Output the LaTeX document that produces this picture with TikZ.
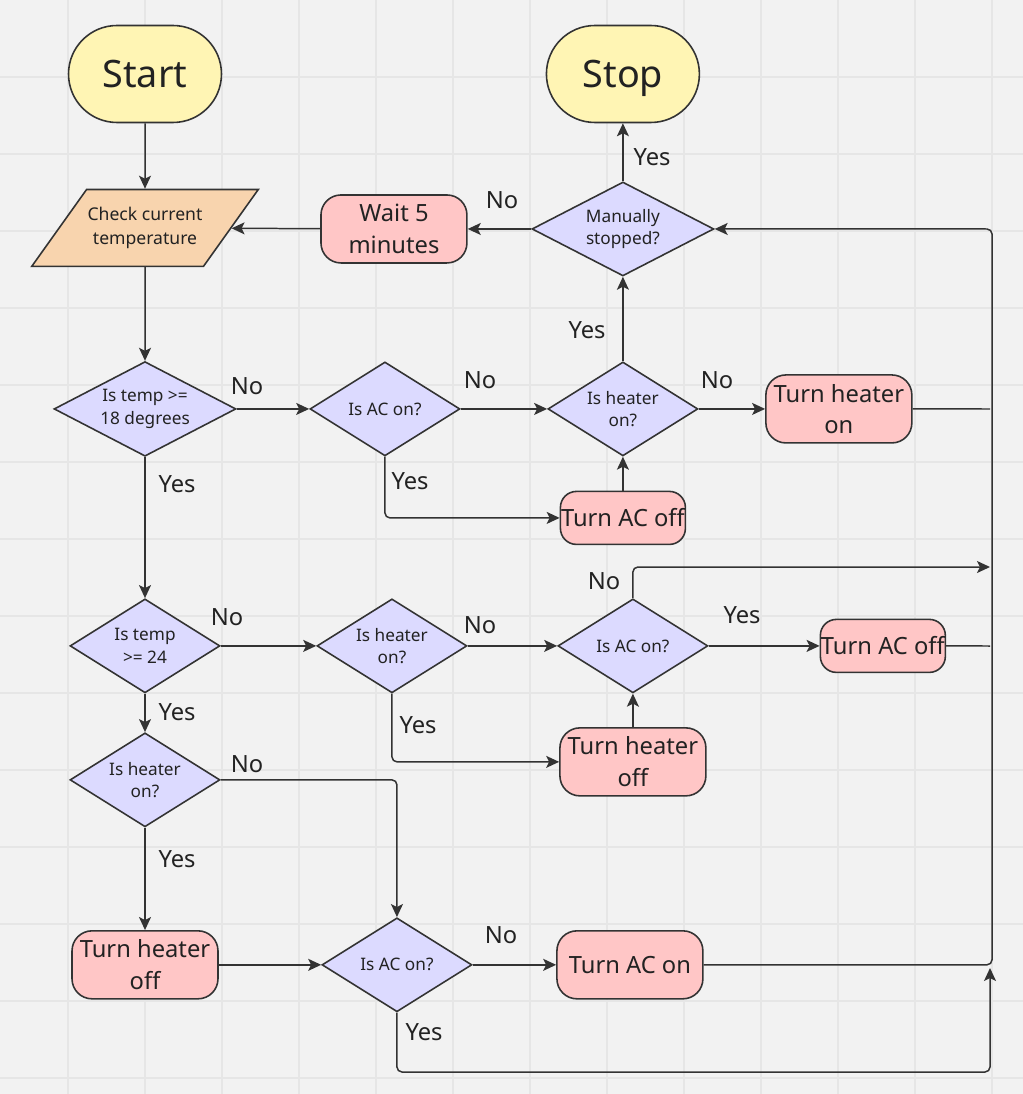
\documentclass[tikz,border=0pt]{standalone}
\usepackage{fontspec}
\setmainfont{Noto Sans}
\usetikzlibrary{shapes,arrows,arrows.meta}
\definecolor{bgcol}{HTML}{F2F2F2}
\definecolor{gridcol}{HTML}{E6E6E6}
\definecolor{linecol}{HTML}{333333}
\definecolor{txtcol}{HTML}{222222}
\definecolor{termfill}{HTML}{FFF5B4}
\definecolor{iofill}{HTML}{F8D4AE}
\definecolor{actfill}{HTML}{FFC6C6}
\definecolor{decfill}{HTML}{DCDAFF}
\tikzstyle{terminal} = [rectangle, draw=linecol, line width=0.9pt, fill=termfill, text=txtcol, rounded corners=0.97cm, minimum width=3.06cm, minimum height=1.94cm, text depth=0pt, font=\fontsize{21.5}{26}\selectfont]
\tikzstyle{io} = [trapezium, draw=linecol, line width=0.9pt, fill=iofill, text=txtcol, trapezium left angle=54.5, trapezium right angle=125.5, inner xsep=0.02cm, inner ysep=0.355cm, align=center, font=\fontsize{10}{13.6}\selectfont]
\tikzstyle{decision} = [diamond, draw=linecol, line width=0.9pt, fill=decfill, text=txtcol, aspect=1.6, inner sep=0pt, minimum width=3cm, minimum height=1.88cm, align=center, font=\fontsize{9.8}{12.7}\selectfont]
\tikzstyle{widedecision} = [decision, minimum width=3.64cm]
\tikzstyle{block} = [rectangle, draw=linecol, line width=0.9pt, fill=actfill, text=txtcol, rounded corners=0.4cm, minimum width=2.92cm, minimum height=1.36cm, align=center, font=\fontsize{13.5}{18}\selectfont]
\tikzstyle{smallblock} = [block, inner sep=0pt, rounded corners=0.32cm, minimum width=2.5cm, minimum height=1.06cm]
\tikzstyle{line} = [draw=linecol, line width=0.85pt, rounded corners=0.1cm, -{Stealth[length=0.26cm, width=0.24cm, inset=0.06cm]}]
\tikzstyle{link} = [draw=linecol, line width=0.85pt, rounded corners=0.1cm]
\tikzstyle{textyn} = [inner sep=0pt, text=txtcol, font=\fontsize{13.5}{16}\selectfont]
\tikzstyle{gridline} = [draw=gridcol, line width=0.04cm]

\begin{document}
\begin{tikzpicture}[x=0.02cm, y=-0.02cm]
      % background and grid
      \useasboundingbox (0,0) rectangle (1023,1094);
      \fill [bgcol] (0,0) rectangle (1023,1094);
      \foreach \gx in {68,145,...,992} \path [gridline] (\gx,0) -- (\gx,1094);
      \foreach \gy in {77,154,...,1078} \path [gridline] (0,\gy) -- (1023,\gy);

      % place nodes
      \node [terminal] (start) at (145,74) {Start};
      \node [io, below of=start, node distance=3.08cm] (check) {Check current\\temperature};
      \node [widedecision, below of=check, node distance=3.62cm] (temp18) {Is temp >=\\18 degrees};
      \node [decision, right of=temp18, node distance=4.8cm] (acq1) {Is AC on?};
      \node [decision, right of=acq1, node distance=4.76cm] (heat1) {Is heater\\on?};
      \node [block, right of=heat1, node distance=4.32cm] (heaton) {Turn heater\\on};
      \node [smallblock, below of=heat1, node distance=2.18cm] (acoff1) {Turn AC off};
      \node [widedecision, above of=heat1, node distance=3.6cm] (manual) {Manually\\stopped?};
      \node [terminal, above of=manual, node distance=3.1cm] (stop) {Stop};
      \node [block, left of=manual, node distance=4.58cm] (wait) {Wait 5\\minutes};
      \node [decision, below of=temp18, node distance=4.74cm] (temp24) {Is temp\\>= 24};
      \node [decision, right of=temp24, node distance=4.94cm] (heat2) {Is heater\\on?};
      \node [decision, right of=heat2, node distance=4.82cm] (acq2) {Is AC on?};
      \node [smallblock, right of=acq2, node distance=5cm] (acoff2) {Turn AC off};
      \node [block, below of=acq2, node distance=2.32cm] (heatoff1) {Turn heater\\off};
      \node [decision, below of=temp24, node distance=2.68cm] (heat3) {Is heater\\on?};
      \node [block, below of=heat3, node distance=3.7cm] (heatoff2) {Turn heater\\off};
      \node [decision, right of=heatoff2, node distance=5.04cm] (acq3) {Is AC on?};
      \node [block, right of=acq3, node distance=4.66cm] (acon) {Turn AC on};

      % right-hand return line
      \coordinate (bustop) at (992,229);
      \coordinate (heatin) at (990,409);
      \coordinate (noin) at (990,567);
      \coordinate (offin) at (990,646);
      \coordinate (loop) at (990,1072);
      \coordinate (loopin) at (990,968);

      % yes/no labels
      \node [textyn] (no1) at (247,386) {No};
      \node [textyn] (yes1) at (177,484) {Yes};
      \node [textyn] (no2) at (480,380) {No};
      \node [textyn] (yes2) at (410,481) {Yes};
      \node [textyn] (no3) at (717,380) {No};
      \node [textyn] (yes3) at (587,330) {Yes};
      \node [textyn] (yes4) at (652,157) {Yes};
      \node [textyn] (no4) at (502,200) {No};
      \node [textyn] (no5) at (227,617) {No};
      \node [textyn] (yes5) at (177,712) {Yes};
      \node [textyn] (no6) at (480,625) {No};
      \node [textyn] (yes6) at (418,725) {Yes};
      \node [textyn] (no7) at (604,581) {No};
      \node [textyn] (yes7) at (742,615) {Yes};
      \node [textyn] (no8) at (247,764) {No};
      \node [textyn] (yes8) at (177,859) {Yes};
      \node [textyn] (no9) at (501,935) {No};
      \node [textyn] (yes9) at (424,1032) {Yes};

      % draw edges
      \path [line] (start) -- (check);
      \path [line] (check) -- (temp18);
      \path [line] (temp18) -- (acq1);
      \path [line] (temp18) -- (temp24);
      \path [line] (acq1) -- (heat1);
      \path [line] (acq1) |- (acoff1);
      \path [line] (acoff1) -- (heat1);
      \path [line] (heat1) -- (heaton);
      \path [line] (heat1) -- (manual);
      \path [line] (manual) -- (stop);
      \path [line] (manual) -- (wait);
      \path [line] (wait) -- (check);
      \path [line] (temp24) -- (heat2);
      \path [line] (temp24) -- (heat3);
      \path [line] (heat2) -- (acq2);
      \path [line] (heat2) |- (heatoff1);
      \path [line] (heatoff1) -- (acq2);
      \path [line] (acq2) -- (acoff2);
      \path [line] (acq2) |- (noin);
      \path [line] (heat3) -| (acq3);
      \path [line] (heat3) -- (heatoff2);
      \path [line] (heatoff2) -- (acq3);
      \path [line] (acq3) -- (acon);
      \path [line] (acq3) |- (loop) -- (loopin);
      \path [line] (acon) -| (bustop) -- (manual);
      \path [link] (heaton) -- (heatin);
      \path [link] (acoff2) -- (offin);
    \end{tikzpicture}
\end{document}
